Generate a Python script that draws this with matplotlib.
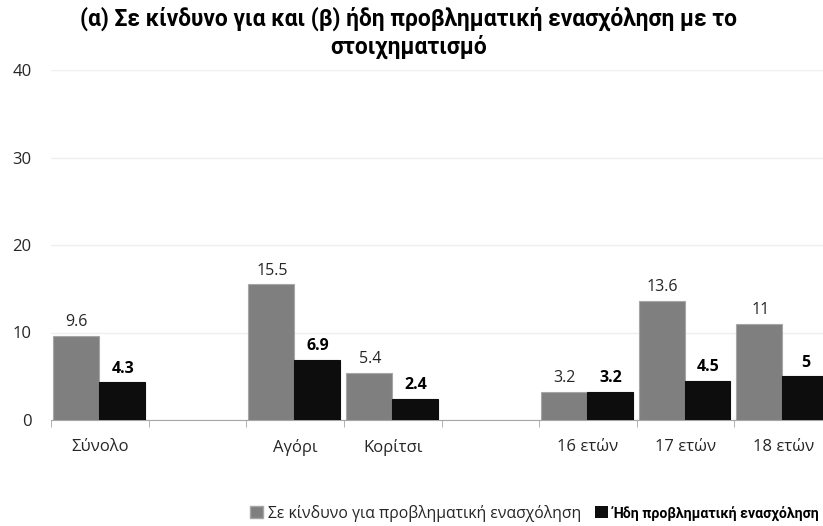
import matplotlib.pyplot as plt
import numpy as np
from matplotlib.patches import Patch

plt.rcParams['font.family'] = ['Open Sans', 'DejaVu Sans']

# categories (empty names leave a gap between the groups)
categories = ["Σύνολο", "", "Αγόρι", "Κορίτσι", "", "16 ετών", "17 ετών", "18 ετών"]
at_risk = [9.6, None, 15.5, 5.4, None, 3.2, 13.6, 11]
problem = [4.3, None, 6.9, 2.4, None, 3.2, 4.5, 5]
series_names = ["Σε κίνδυνο για προβληματική ενασχόληση", "Ήδη προβληματική ενασχόληση"]
title = "(α) Σε κίνδυνο για και (β) ήδη προβληματική ενασχόληση με το\nστοιχηματισμό"
y_ticks = [0, 10, 20, 30, 40]

narrow = ['Roboto', 'DejaVu Sans']

fig = plt.figure(figsize=(8.23, 5.26), dpi=100)
ax = fig.add_axes([51 / 823, 1 - 420 / 526, 781 / 823, 350 / 526])

x = np.arange(len(categories))
w = 0.47
for i, (a, b) in enumerate(zip(at_risk, problem)):
    if a is None:
        continue
    ax.bar(x[i] - w / 2 - 0.01, a, width=w, color='#7f7f7f', edgecolor='#a6a6a6', linewidth=0.8, zorder=3)
    ax.bar(x[i] + w / 2 - 0.01, b, width=w, color='#0d0d0d', edgecolor='#0d0d0d', linewidth=0.8, zorder=3)
    ax.annotate(f"{a:g}", (x[i] - w / 2, a), xytext=(0, 4), textcoords='offset points',
                ha='center', va='bottom', fontsize=11.5, color='#262626')
    ax.annotate(f"{b:g}", (x[i] + w / 2, b), xytext=(0, 4), textcoords='offset points',
                ha='center', va='bottom', fontsize=11.5, fontweight='bold', color='#000000')

ax.set_xlim(-0.5, len(categories) - 0.5)
ax.set_ylim(0, 40)
ax.set_yticks(y_ticks)
ax.tick_params(axis='y', length=0, labelsize=12, pad=14, labelcolor='#262626')
ax.grid(axis='y', color='#efefef', linewidth=1, zorder=0)

ax.set_xticks(x)
ax.set_xticklabels(categories)
ax.set_xticks(np.arange(len(categories) + 1) - 0.5, minor=True)
ax.tick_params(axis='x', which='major', length=0, labelsize=12, pad=14, labelcolor='#262626')
ax.tick_params(axis='x', which='minor', length=5, color='#a6a6a6', direction='out')

for s in ['top', 'right', 'left']:
    ax.spines[s].set_visible(False)
ax.spines['bottom'].set_color('#a6a6a6')

fig.text(0.496, 1 - 33 / 526, title, ha='center', va='center', fontsize=16.4,
         fontweight='bold', family=narrow, linespacing=1.2)

# legend at the bottom, right edge kept inside the figure
handles = [Patch(facecolor='#7f7f7f', edgecolor='#a6a6a6'), Patch(facecolor='#0d0d0d')]
leg = fig.legend(handles, series_names, loc='center right', bbox_to_anchor=(819 / 823, 1 - 513 / 526),
                 ncol=2, frameon=False, fontsize=11.3, handlelength=0.8, handleheight=0.8,
                 handletextpad=0.3, columnspacing=0.9, borderpad=0, borderaxespad=0)
leg.get_texts()[0].set_color('#262626')
leg.get_texts()[1].set_fontweight('bold')
leg.get_texts()[1].set_family(narrow)
leg.get_texts()[1].set_fontsize(10.2)

fig.savefig('out.png', dpi=100)
